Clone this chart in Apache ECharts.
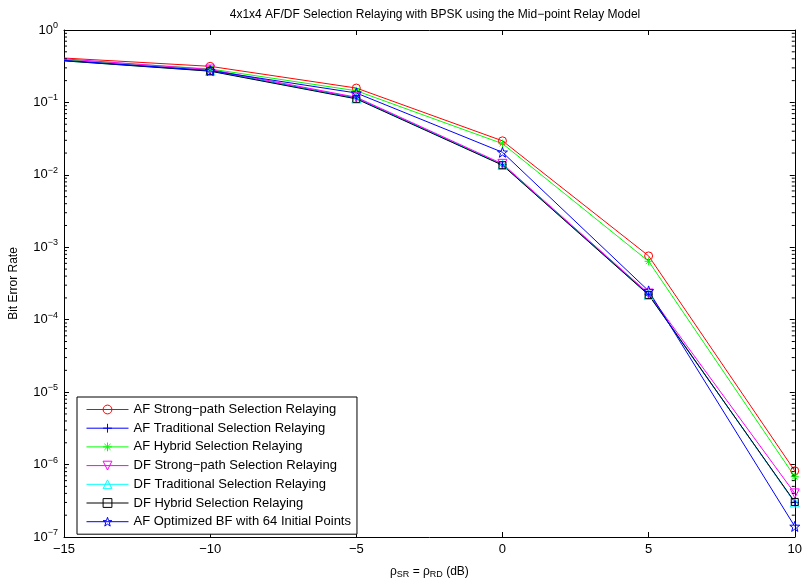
<!DOCTYPE html>
<html><head><meta charset="utf-8">
<script src="https://cdn.jsdelivr.net/npm/echarts@6/dist/echarts.min.js"></script>
<style>html,body{margin:0;padding:0;background:#fff}#c{width:805px;height:584px}</style>
</head><body><div id="c"></div>
<script>
const snr = [-15, -10, -5, 0, 5, 10];
const afStrong = [0.41, 0.315, 0.158, 0.0295, 7.6e-4, 8.2e-7];
const afTrad = [0.38, 0.275, 0.115, 0.0138, 2.25e-4, 3.0e-7];
const afHybrid = [0.39, 0.29, 0.145, 0.027, 6.4e-4, 6.8e-7];
const dfStrong = [0.40, 0.285, 0.118, 0.0142, 2.3e-4, 4.0e-7];
const dfTrad = [0.375, 0.272, 0.113, 0.0137, 2.2e-4, 3.0e-7];
const dfHybrid = [0.375, 0.27, 0.112, 0.0136, 2.2e-4, 3.05e-7];
const afOpt = [0.38, 0.275, 0.135, 0.0205, 2.5e-4, 1.4e-7];
const seriesNames = ['AF Strong\u2212path Selection Relaying','AF Traditional Selection Relaying','AF Hybrid Selection Relaying','DF Strong\u2212path Selection Relaying','DF Traditional Selection Relaying','DF Hybrid Selection Relaying','AF Optimized BF with 64 Initial Points'];
const xTicks = [-15, -10, -5, 0, 5, 10];
const yExponents = [0, -1, -2, -3, -4, -5, -6, -7];

const FONT = 'Liberation Sans, Arial, Helvetica, sans-serif';
const minorVals = [];
for (let e = -7; e < 0; e++) for (let m = 2; m <= 9; m++) minorVals.push([m * Math.pow(10, e)]);

const SYM = {
  plus: 'path://M5,0L5,10M0,5L10,5',
  aster: 'path://M5,0L5,10M0,5L10,5M1.5,1.5L8.5,8.5M8.5,1.5L1.5,8.5',
  tdown: 'path://M0,0L10,0L5,9Z',
  tup: 'path://M5,0L10,9L0,9Z',
  star: 'path://M5,0L6.18,3.38L9.76,3.45L6.9,5.62L7.94,9.05L5,7L2.06,9.05L3.1,5.62L0.24,3.45L3.82,3.38Z'
};
function mk(name, data, color, symbol, size) {
  return {
    name, type: 'line',
    data: snr.map((x, i) => i === 0 ? { value: [x, data[i]], symbol: 'none' } : [x, data[i]]),
    symbol, symbolSize: size, showSymbol: true,
    lineStyle: { color, width: 1 },
    itemStyle: { color: 'rgba(0,0,0,0)', borderColor: color, borderWidth: 1 },
    emphasis: { disabled: true }, animation: false, z: 3
  };
}
const series = [
  mk(seriesNames[0], afStrong, '#ff0000', 'circle', 8),
  mk(seriesNames[1], afTrad, '#0000ff', SYM.plus, 8),
  mk(seriesNames[2], afHybrid, '#00ff00', SYM.aster, 8),
  mk(seriesNames[3], dfStrong, '#ff00ff', SYM.tdown, 9),
  mk(seriesNames[4], dfTrad, '#00ffff', SYM.tup, 9),
  mk(seriesNames[5], dfHybrid, '#000000', 'rect', 7),
  mk(seriesNames[6], afOpt, '#0000ff', SYM.star, 10),
  {
    type: 'custom', name: 'minor', data: minorVals, silent: true, animation: false, z: 5,
    encode: { y: 0 },
    renderItem: function (params, api) {
      const v = api.value(0);
      const l = api.coord([-15, v]);
      const r = api.coord([10, v]);
      return { type: 'group', children: [
        { type: 'line', shape: { x1: l[0], y1: l[1], x2: l[0] + 3, y2: l[1] }, style: { stroke: '#000', lineWidth: 1 } },
        { type: 'line', shape: { x1: r[0], y1: r[1], x2: r[0] - 3, y2: r[1] }, style: { stroke: '#000', lineWidth: 1 } }
      ]};
    }
  }
];
const sup = n => String(n).replace('-', '\u2212');
const option = {
  backgroundColor: '#fff',
  animation: false,
  title: {
    text: '4x1x4 AF/DF Selection Relaying with BPSK using the Mid\u2212point Relay Model',
    left: 430, top: 4, textAlign: 'center',
    textStyle: { fontFamily: FONT, fontSize: 12, fontWeight: 'normal', color: '#000' }
  },
  grid: { left: 62, right: 8, top: 30, bottom: 39 },
  legend: {
    data: seriesNames, orient: 'vertical', left: 77, top: 397,
    padding: [6, 6, 6, 9], itemGap: 5.7, itemWidth: 42, itemHeight: 11,
    borderColor: '#000', borderWidth: 1, backgroundColor: '#fff',
    lineStyle: { width: 1 }, itemStyle: { borderWidth: 1 },
    textStyle: { fontFamily: FONT, fontSize: 13, lineHeight: 11, color: '#000' }
  },
  xAxis: [{
    type: 'value', min: -15, max: 10, interval: 5, position: 'bottom',
    axisLine: { onZero: false, lineStyle: { color: '#000', width: 1 } },
    axisTick: { inside: true, length: 5, lineStyle: { color: '#000' } },
    splitLine: { show: false },
    axisLabel: { fontFamily: FONT, fontSize: 13, color: '#000', margin: 6,
      formatter: v => xTicks.includes(v) ? String(v).replace('-', '\u2212') : '' },
    name: '\u03c1{sub|SR} = \u03c1{sub|RD} (dB)', nameLocation: 'middle', nameGap: 27,
    nameTextStyle: { fontFamily: FONT, fontSize: 12, color: '#000',
      rich: { sub: { fontFamily: FONT, fontSize: 9, color: '#000', verticalAlign: 'bottom', padding: [6, 0, 0, 0] } } }
  }, {
    type: 'value', min: -15, max: 10, interval: 5, position: 'top',
    axisLine: { onZero: false, lineStyle: { color: '#000', width: 1 } },
    axisTick: { inside: true, length: 5, lineStyle: { color: '#000' } },
    splitLine: { show: false }, axisLabel: { show: false }
  }],
  yAxis: [{
    type: 'log', logBase: 10, min: 1e-7, max: 1, position: 'left',
    axisLine: { show: true, onZero: false, lineStyle: { color: '#000', width: 1 } },
    axisTick: { show: true, inside: true, length: 5, lineStyle: { color: '#000' } },
    splitLine: { show: false },
    axisLabel: { fontFamily: FONT, fontSize: 13, color: '#000', margin: 6,
      formatter: v => { const e = Math.round(Math.log10(v)); return yExponents.includes(e) ? '10{sup|' + sup(e) + '}' : ''; },
      rich: { sup: { fontFamily: FONT, fontSize: 9, color: '#000', verticalAlign: 'top', padding: [0, 0, 9, 0] } } },
    name: 'Bit Error Rate', nameLocation: 'middle', nameGap: 44, nameRotate: 90,
    nameTextStyle: { fontFamily: FONT, fontSize: 12, color: '#000' }
  }, {
    type: 'log', logBase: 10, min: 1e-7, max: 1, position: 'right',
    axisLine: { show: true, onZero: false, lineStyle: { color: '#000', width: 1 } },
    axisTick: { show: true, inside: true, length: 5, lineStyle: { color: '#000' } },
    splitLine: { show: false }, axisLabel: { show: false }
  }],
  series
};
echarts.init(document.getElementById('c'), null, { renderer: 'canvas' }).setOption(option);
</script></body></html>
